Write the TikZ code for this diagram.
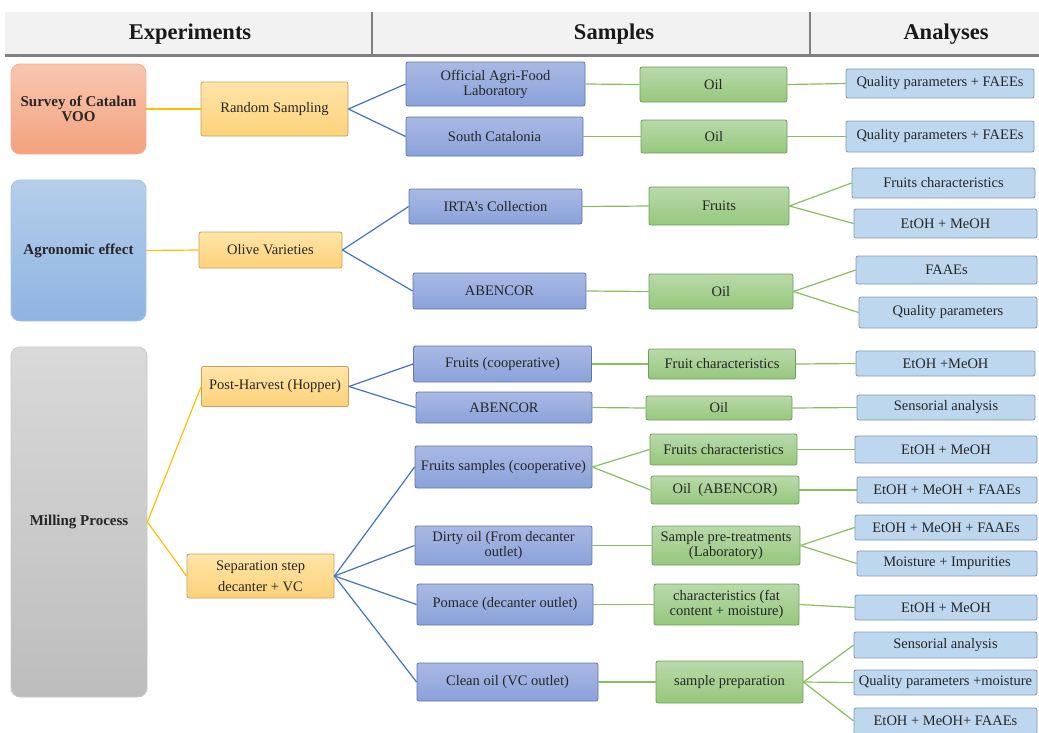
\documentclass[tikz,border=0pt]{standalone}
\usepackage{fontspec}
\setmainfont{Liberation Serif}
\usepackage{xcolor}
\usepackage{tikz}
\definecolor{headfill}{RGB}{242, 242, 242}
\definecolor{headrule}{RGB}{128, 128, 128}
\definecolor{surveytop}{RGB}{248, 198, 176}
\definecolor{surveybot}{RGB}{243, 162, 126}
\definecolor{surveyline}{RGB}{244, 176, 143}
\definecolor{agrotop}{RGB}{181, 206, 234}
\definecolor{agrobot}{RGB}{142, 180, 226}
\definecolor{agroline}{RGB}{166, 195, 230}
\definecolor{milltop}{RGB}{217, 217, 217}
\definecolor{millbot}{RGB}{189, 189, 189}
\definecolor{millline}{RGB}{200, 200, 200}
\definecolor{steptop}{RGB}{255, 229, 168}
\definecolor{stepbot}{RGB}{253, 210, 122}
\definecolor{stepline}{RGB}{198, 161, 91}
\definecolor{smptop}{RGB}{169, 185, 228}
\definecolor{smpbot}{RGB}{138, 162, 218}
\definecolor{smpline}{RGB}{95, 115, 174}
\definecolor{preptop}{RGB}{185, 217, 170}
\definecolor{prepbot}{RGB}{150, 200, 124}
\definecolor{prepline}{RGB}{112, 158, 92}
\definecolor{anafill}{RGB}{189, 215, 238}
\definecolor{analine}{RGB}{132, 151, 176}
\definecolor{linkyellow}{RGB}{255, 192, 0}
\definecolor{linkblue}{RGB}{68, 114, 196}
\definecolor{linkgreen}{RGB}{134, 191, 94}
\tikzset{
 basebox/.style={
 rectangle,
 rounded corners=2pt,
 align=center,
 inner sep=1.5pt,
 line width=0.8pt,
 text=black!85,
 font=\fontsize{14.5}{15}\selectfont
 },
 expbox/.style={
 basebox,
 rounded corners=9pt,
 font=\fontsize{15}{15}\selectfont\bfseries
 },
 stepbox/.style={
 basebox,
 draw=stepline,
 top color=steptop,
 bottom color=stepbot
 },
 smpbox/.style={
 basebox,
 draw=smpline,
 top color=smptop,
 bottom color=smpbot
 },
 prepbox/.style={
 basebox,
 draw=prepline,
 top color=preptop,
 bottom color=prepbot
 },
 anabox/.style={
 basebox,
 draw=analine,
 fill=anafill
 },
 headtext/.style={font=\fontsize{22.5}{24}\selectfont\bfseries, text=black!90},
 yellowlink/.style={line width=1.2pt, draw=linkyellow},
 bluelink/.style={line width=1.2pt, draw=linkblue},
 greenlink/.style={line width=1.2pt, draw=linkgreen}
}
\begin{document}
\begin{tikzpicture}[x=1pt, y=-1pt]
 \useasboundingbox (0,0) rectangle (1039,732);

 \fill[headfill] (5,12) rectangle (1039,55);
 \draw[headrule, line width=3pt] (5,55.5) -- (1039,55.5);
 \draw[headrule, line width=1.5pt] (372,12) -- (372,54);
 \draw[headrule, line width=1.5pt] (810,12) -- (810,54);
 \node[headtext] (hexp) at (190,34) {Experiments};
 \node[headtext] (hsmp) at (614,34) {Samples};
 \node[headtext] (hana) at (946,34) {Analyses};

 \node[expbox, draw=surveyline, top color=surveytop, bottom color=surveybot,
 minimum width=135, minimum height=90] (survey) at (78.5,109) {Survey of Catalan\\VOO};
 \node[expbox, draw=agroline, top color=agrotop, bottom color=agrobot,
 minimum width=135, minimum height=141] (agro) at (78.5,250.5) {Agronomic effect};
 \node[expbox, draw=millline, top color=milltop, bottom color=millbot,
 minimum width=136, minimum height=350] (milling) at (79,522) {Milling Process};

 \node[stepbox, minimum width=147, minimum height=54] (random) at (274.5,109) {Random Sampling};
 \node[stepbox, minimum width=143, minimum height=36] (olive) at (270.5,250) {Olive Varieties};
 \node[stepbox, minimum width=147, minimum height=40] (hopper) at (275,386.5) {Post-Harvest (Hopper)};
 \node[stepbox, minimum width=147, minimum height=44,
 font=\fontsize{14.5}{21}\selectfont] (separ) at (260.5,576) {Separation step\\decanter + VC};

 \node[smpbox, minimum width=179, minimum height=44] (official) at (495.5,84) {Official Agri-Food\\Laboratory};
 \node[smpbox, minimum width=177, minimum height=39] (south) at (494.5,136.5) {South Catalonia};
 \node[smpbox, minimum width=173, minimum height=35] (irta) at (495.5,206.5) {IRTA's Collection};
 \node[smpbox, minimum width=173, minimum height=36] (abencorA) at (499.5,291) {ABENCOR};
 \node[smpbox, minimum width=178, minimum height=36] (coop) at (502.5,364) {Fruits (cooperative)};
 \node[smpbox, minimum width=176, minimum height=31] (abencorB) at (504,407.5) {ABENCOR};
 \node[smpbox, minimum width=177, minimum height=42] (fsamples) at (503.5,467) {Fruits samples (cooperative)};
 \node[smpbox, minimum width=177, minimum height=39] (dirty) at (503.5,545.5) {Dirty oil (From decanter\\outlet)};
 \node[smpbox, minimum width=176, minimum height=41] (pomace) at (505,604.5) {Pomace (decanter outlet)};
 \node[smpbox, minimum width=181, minimum height=38] (clean) at (507.5,682) {Clean oil (VC outlet)};

 \node[prepbox, minimum width=147, minimum height=35] (oilA) at (713.5,84.5) {Oil};
 \node[prepbox, minimum width=146, minimum height=33] (oilB) at (714,136.5) {Oil};
 \node[prepbox, minimum width=140, minimum height=38] (fruits) at (719,206) {Fruits};
 \node[prepbox, minimum width=144, minimum height=35] (oilC) at (721,291.5) {Oil};
 \node[prepbox, minimum width=147, minimum height=30] (fchar) at (722,364) {Fruit characteristics};
 \node[prepbox, minimum width=146, minimum height=24] (oilD) at (719,408) {Oil};
 \node[prepbox, minimum width=147, minimum height=31] (fcharB) at (723.5,449.5) {Fruits characteristics};
 \node[prepbox, minimum width=148, minimum height=28] (oilE) at (725,490) {Oil\ \ (ABENCOR)};
 \node[prepbox, minimum width=148, minimum height=39] (pretreat) at (726,545.5) {Sample pre-treatments\\(Laboratory)};
 \node[prepbox, minimum width=145, minimum height=41] (fatchar) at (726.5,604.5) {characteristics (fat\\content + moisture)};
 \node[prepbox, minimum width=147, minimum height=42] (prep) at (729.5,682) {sample preparation};

 \node[anabox, minimum width=188, minimum height=29] (qpA) at (940,83.5) {Quality parameters + FAEEs};
 \node[anabox, minimum width=188, minimum height=31] (qpB) at (940,136.5) {Quality parameters + FAEEs};
 \node[anabox, minimum width=183, minimum height=30] (fcharC) at (943.5,183) {Fruits characteristics};
 \node[anabox, minimum width=183, minimum height=29] (etohA) at (945.5,223.5) {EtOH + MeOH};
 \node[anabox, minimum width=181, minimum height=28] (faaes) at (946.5,270) {FAAEs};
 \node[anabox, minimum width=178, minimum height=31] (qpC) at (948,312.5) {Quality parameters};
 \node[anabox, minimum width=179, minimum height=25] (etohB) at (945.5,363.5) {EtOH +MeOH};
 \node[anabox, minimum width=178, minimum height=25] (sensA) at (946,407.5) {Sensorial analysis};
 \node[anabox, minimum width=182, minimum height=27] (etohC) at (946,449.5) {EtOH + MeOH};
 \node[anabox, minimum width=180, minimum height=26] (mixA) at (947,490) {EtOH + MeOH + FAAEs};
 \node[anabox, minimum width=182, minimum height=25] (mixB) at (946,527.5) {EtOH + MeOH + FAAEs};
 \node[anabox, minimum width=180, minimum height=25] (moist) at (947,563.5) {Moisture + Impurities};
 \node[anabox, minimum width=182, minimum height=25] (etohD) at (946,607.5) {EtOH + MeOH};
 \node[anabox, minimum width=183, minimum height=26] (sensB) at (945.5,645) {Sensorial analysis};
 \node[anabox, minimum width=183, minimum height=25] (qpD) at (945.5,682.5) {Quality parameters +moisture};
 \node[anabox, minimum width=183, minimum height=26] (mixC) at (945.5,721) {EtOH + MeOH+ FAAEs};

 \draw[yellowlink] (survey.east) -- (random.west);
 \draw[yellowlink] (agro.east) -- (olive.west);
 \draw[yellowlink] (milling.east) -- (hopper.west);
 \draw[yellowlink] (milling.east) -- (separ.west);

 \draw[bluelink] (random.east) -- (official.west);
 \draw[bluelink] (random.east) -- (south.west);
 \draw[bluelink] (olive.east) -- (irta.west);
 \draw[bluelink] (olive.east) -- (abencorA.west);
 \draw[bluelink] (hopper.east) -- (coop.west);
 \draw[bluelink] (hopper.east) -- (abencorB.west);
 \draw[bluelink] (separ.east) -- (fsamples.west);
 \draw[bluelink] (separ.east) -- (dirty.west);
 \draw[bluelink] (separ.east) -- (pomace.west);
 \draw[bluelink] (separ.east) -- (clean.west);

 \draw[greenlink] (official.east) -- (oilA.west);
 \draw[greenlink] (south.east) -- (oilB.west);
 \draw[greenlink] (irta.east) -- (fruits.west);
 \draw[greenlink] (abencorA.east) -- (oilC.west);
 \draw[greenlink] (coop.east) -- (fchar.west);
 \draw[greenlink] (abencorB.east) -- (oilD.west);
 \draw[greenlink] (fsamples.east) -- (fcharB.west);
 \draw[greenlink] (fsamples.east) -- (oilE.west);
 \draw[greenlink] (dirty.east) -- (pretreat.west);
 \draw[greenlink] (pomace.east) -- (fatchar.west);
 \draw[greenlink] (clean.east) -- (prep.west);

 \draw[greenlink] (oilA.east) -- (qpA.west);
 \draw[greenlink] (oilB.east) -- (qpB.west);
 \draw[greenlink] (fruits.east) -- (fcharC.west);
 \draw[greenlink] (fruits.east) -- (etohA.west);
 \draw[greenlink] (oilC.east) -- (faaes.west);
 \draw[greenlink] (oilC.east) -- (qpC.west);
 \draw[greenlink] (fchar.east) -- (etohB.west);
 \draw[greenlink] (oilD.east) -- (sensA.west);
 \draw[greenlink] (fcharB.east) -- (etohC.west);
 \draw[greenlink] (oilE.east) -- (mixA.west);
 \draw[greenlink] (pretreat.east) -- (mixB.west);
 \draw[greenlink] (pretreat.east) -- (moist.west);
 \draw[greenlink] (fatchar.east) -- (etohD.west);
 \draw[greenlink] (prep.east) -- (sensB.west);
 \draw[greenlink] (prep.east) -- (qpD.west);
 \draw[greenlink] (prep.east) -- (mixC.west);
\end{tikzpicture}
\end{document}
